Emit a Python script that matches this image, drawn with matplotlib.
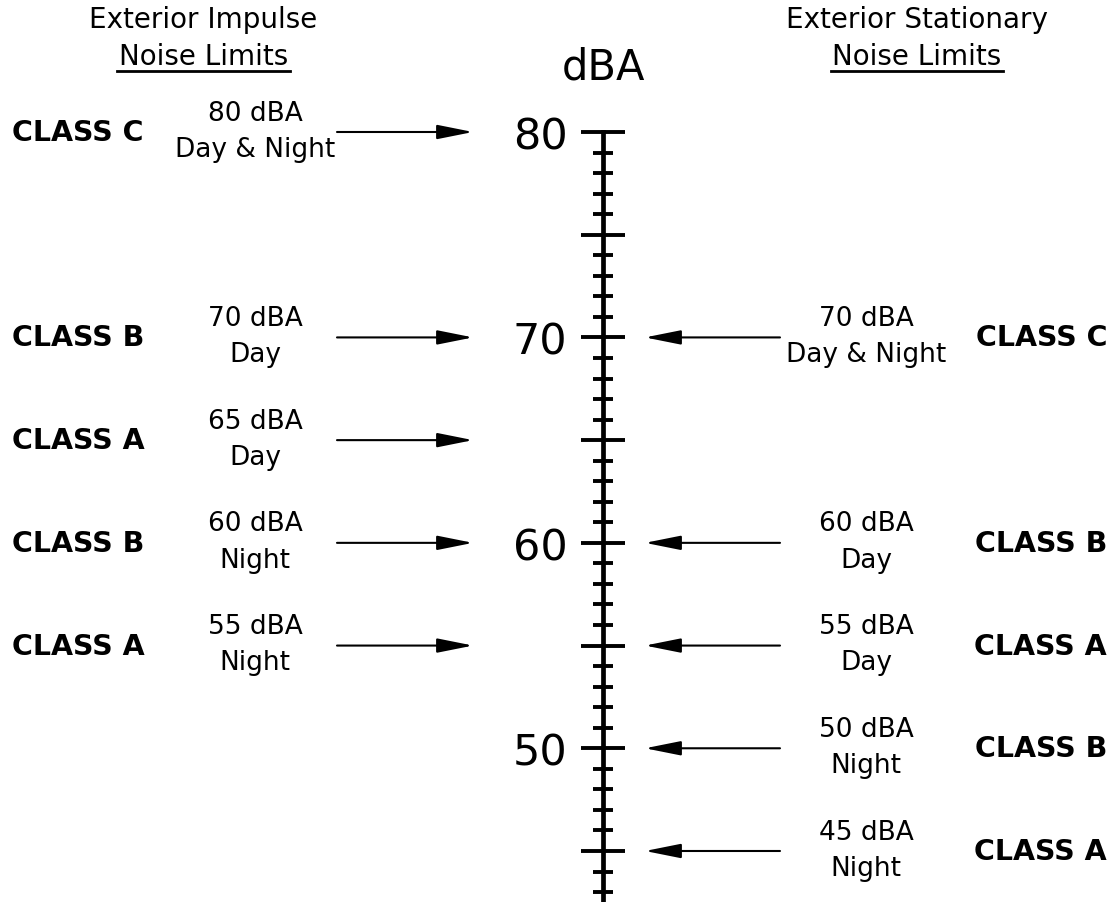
import matplotlib.pyplot as plt
from matplotlib.ticker import FixedLocator

# Impulse limits (left side of the scale)
impulse_levels = [80, 70, 65, 60, 55]
impulse_period = ["Day & Night", "Day", "Day", "Night", "Night"]
impulse_class = ["CLASS C", "CLASS B", "CLASS A", "CLASS B", "CLASS A"]

# Stationary limits (right side of the scale)
stationary_levels = [70, 60, 55, 50, 45]
stationary_period = ["Day & Night", "Day", "Day", "Night", "Night"]
stationary_class = ["CLASS C", "CLASS B", "CLASS A", "CLASS B", "CLASS A"]

major_ticks = [45, 50, 55, 60, 65, 70, 75, 80]
minor_ticks = [v for v in range(43, 80) if v % 5 != 0]
labelled_ticks = [50, 60, 70, 80]

SIZE_LABEL = 19
SIZE_CLASS = 20.5
SIZE_HEADER = 20

fig = plt.figure(figsize=(11.14, 9.03), dpi=100)
ax = fig.add_axes([0, 0, 1, 1])
ax.set_xlim(0, 1114)
ax.set_ylim(42.517, 86.474)

# the dBA scale is the left spine, moved to the middle of the figure
for side in ["top", "right", "bottom"]:
    ax.spines[side].set_visible(False)
ax.spines["left"].set_position(("data", 603))
ax.spines["left"].set_bounds(42.6, 80)
ax.spines["left"].set_linewidth(3.4)
ax.set_xticks([])
ax.yaxis.set_major_locator(FixedLocator(major_ticks))
ax.yaxis.set_minor_locator(FixedLocator(minor_ticks))
ax.set_yticklabels([str(v) if v in labelled_ticks else "" for v in major_ticks])
ax.tick_params(axis="y", which="major", direction="inout", length=31, width=2.8,
               labelsize=31, pad=10)
ax.tick_params(axis="y", which="minor", direction="inout", length=15, width=2.8)

ax.text(604, 83.2, "dBA", fontsize=30, ha="center", va="center")

# headers
ax.text(203, 85.5, "Exterior Impulse", fontsize=SIZE_HEADER, ha="center", va="center")
ax.text(204, 83.7, "Noise Limits", fontsize=SIZE_HEADER, ha="center", va="center")
ax.text(917, 85.5, "Exterior Stationary", fontsize=SIZE_HEADER, ha="center", va="center")
ax.text(917, 83.7, "Noise Limits", fontsize=SIZE_HEADER, ha="center", va="center")
ax.plot([117, 290], [82.95, 82.95], color="black", lw=2)
ax.plot([831, 1003], [82.95, 82.95], color="black", lw=2)

arrow = dict(arrowstyle="-|>,head_length=1.1,head_width=0.22", mutation_scale=20,
             lw=1.5, color="black", shrinkA=0, shrinkB=0)

for lvl, per, cls in zip(impulse_levels, impulse_period, impulse_class):
    ax.annotate("", xy=(473, lvl), xytext=(337, lvl), arrowprops=arrow)
    ax.annotate(f"{lvl} dBA", xy=(255, lvl), xytext=(0, 14), textcoords="offset points",
                fontsize=SIZE_LABEL, ha="center", va="center")
    ax.annotate(per, xy=(255, lvl), xytext=(0, -12), textcoords="offset points",
                fontsize=SIZE_LABEL, ha="center", va="center")
    ax.text(12, lvl, cls, fontsize=SIZE_CLASS, fontweight="bold", ha="left", va="center")

for lvl, per, cls in zip(stationary_levels, stationary_period, stationary_class):
    ax.annotate("", xy=(645, lvl), xytext=(780, lvl), arrowprops=arrow)
    ax.annotate(f"{lvl} dBA", xy=(866, lvl), xytext=(0, 14), textcoords="offset points",
                fontsize=SIZE_LABEL, ha="center", va="center")
    ax.annotate(per, xy=(866, lvl), xytext=(0, -12), textcoords="offset points",
                fontsize=SIZE_LABEL, ha="center", va="center")
    ax.text(1107, lvl, cls, fontsize=SIZE_CLASS, fontweight="bold", ha="right", va="center")

fig.savefig("out.png", dpi=100, facecolor="white")
